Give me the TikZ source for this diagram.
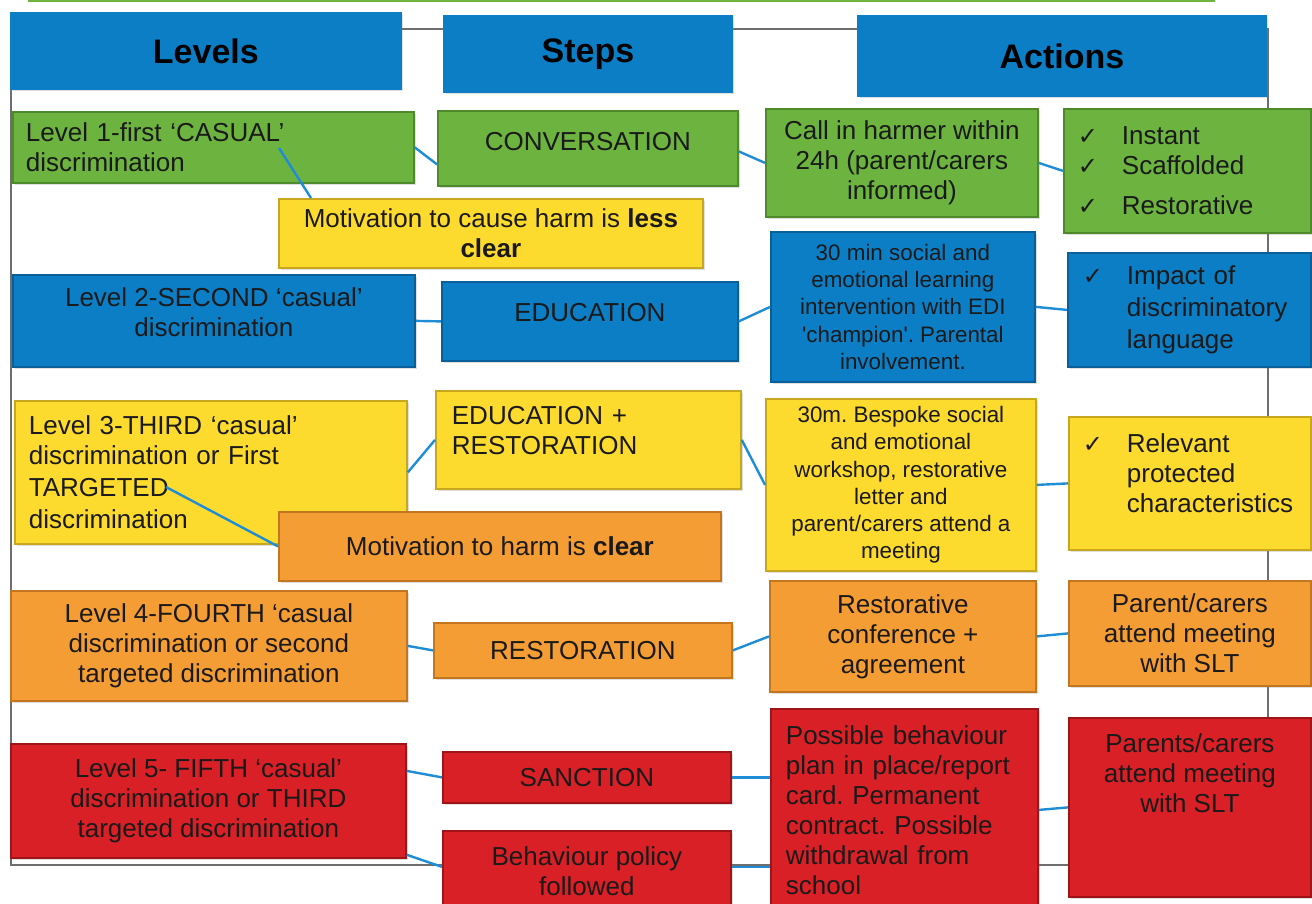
\documentclass[tikz,border=0pt]{standalone}
\usepackage{fontspec}
\setmainfont{Liberation Sans}
\newfontfamily\tickfont{DejaVu Sans}
\usetikzlibrary{calc, shadows}
\definecolor{verdeNivel}{HTML}{6DB33F}
\definecolor{verdeBorde}{HTML}{4E8A2B}
\definecolor{azulNivel}{HTML}{0B7EC5}
\definecolor{azulBorde}{HTML}{0A5F98}
\definecolor{amarilloNivel}{HTML}{FDDA2E}
\definecolor{amarilloBorde}{HTML}{C6A71E}
\definecolor{naranjaNivel}{HTML}{F59D35}
\definecolor{naranjaBorde}{HTML}{C27620}
\definecolor{rojoNivel}{HTML}{D92027}
\definecolor{rojoBorde}{HTML}{9E1419}
\definecolor{enlace}{HTML}{1F8DD6}
\definecolor{marco}{HTML}{6E6E6E}
\definecolor{tinta}{HTML}{1A1A1A}
% one pixel of the sheet
\newcommand{\pix}{0.5pt}
\newcommand{\tick}{\makebox[18pt][l]{\hspace{-4pt}\tickfont\fontsize{12}{15}\selectfont ✓}}
\newcommand{\sintick}{\hspace*{18pt}}
\hyphenpenalty=10000
\exhyphenpenalty=10000
\frenchspacing
\tikzset{
  cajaBase/.style={
    draw, line width=0.9pt, inner sep=0pt, anchor=north west,
    align=center, text=tinta, font=\fontsize{13}{15}\selectfont,
    drop shadow={shadow xshift=1.2pt, shadow yshift=-1.2pt, opacity=0.25}
  },
  medida/.style 2 args={minimum width=#1*\pix, minimum height=#2*\pix},
  ancho/.style={text width=#1pt/2, align=left},
  letraChica/.style={font=\fontsize{11.2}{13.6}\selectfont},
  cajaTitulo/.style={cajaBase, draw=azulNivel, fill=azulNivel,
    font=\fontsize{17}{20}\selectfont\bfseries, text=black},
  cajaVerde/.style={cajaBase, draw=verdeBorde, fill=verdeNivel},
  cajaAzul/.style={cajaBase, draw=azulBorde, fill=azulNivel},
  cajaAmarilla/.style={cajaBase, draw=amarilloBorde, fill=amarilloNivel},
  cajaNaranja/.style={cajaBase, draw=naranjaBorde, fill=naranjaNivel},
  cajaRoja/.style={cajaBase, draw=rojoBorde, fill=rojoNivel},
  conector/.style={draw=enlace, line width=1.2pt},
}

\begin{document}
\begin{tikzpicture}[x=\pix, y=-\pix]
  \useasboundingbox (0,0) rectangle (1312,904);
  \clip (0,0) rectangle (1312,904);

  % frame and the bar above the headings
  \draw[marco, line width=0.7pt] (11,29) rectangle (1268,865);
  \node[draw=verdeNivel, line width=1.2pt, fill=white, anchor=south west,
        medida={1185}{40}] (barra) at (28,2) {};

  % headings
  \node[cajaTitulo, medida={390}{76}] (hNivel) at (10,12) {Levels};
  \node[cajaTitulo, medida={288}{76}] (hPaso) at (443,15) {Steps};
  \node[cajaTitulo, medida={408}{80}] (hAccion) at (857,15) {Actions};

  % level 1
  \node[cajaVerde, medida={401}{71}, ancho=375] (n1) at (12,111)
    {Level 1-first ‘CASUAL’\\discrimination};
  \node[cajaVerde, medida={300}{75}, text depth=7pt] (p1) at (437,110) {CONVERSATION};
  \node[cajaVerde, medida={272}{108}] (a1) at (765,108)
    {Call in harmer within\\24h (parent/carers\\informed)};
  \node[cajaVerde, medida={247}{124}, ancho=203] (c1) at (1063,108)
    {\tick Instant\\\tick Scaffolded\\[5pt]\tick Restorative};
  \node[cajaAmarilla, medida={424}{69}] (m1) at (278,198)
    {Motivation to cause harm is \textbf{less}\\\textbf{clear}};

  % level 2
  \node[cajaAzul, medida={402}{92}, text depth=9pt] (n2) at (12,274)
    {Level 2-SECOND ‘casual’\\discrimination};
  \node[cajaAzul, medida={296}{79}, text depth=9pt] (p2) at (441,281) {EDUCATION};
  \node[cajaAzul, letraChica, medida={264}{150}] (a2) at (770,231)
    {30 min social and\\emotional learning\\intervention with EDI\\
     \textquotesingle champion\textquotesingle. Parental\\involvement.};
  \node[cajaAzul, medida={243}{114}, ancho=197] (c2) at (1067,252)
    {\tick Impact of\\[1pt]\sintick discriminatory\\[1pt]\sintick language};

  % level 3
  \node[cajaAmarilla, medida={392}{143}, ancho=364] (n3) at (14,400)
    {Level 3-THIRD ‘casual’\\discrimination or First\\[1pt]TARGETED\\[1pt]discrimination};
  \node[cajaAmarilla, medida={305}{98}, ancho=273, text depth=24pt] (p3) at (435,390)
    {EDUCATION +\\RESTORATION};
  \node[cajaAmarilla, letraChica, medida={270}{172}] (a3) at (765,398)
    {30m. Bespoke social\\and emotional\\workshop, restorative\\letter and\\
     parent/carers attend a\\meeting};
  \node[cajaAmarilla, medida={242}{133}, ancho=198, text depth=40pt] (c3) at (1068,416)
    {\tick Relevant\\\sintick protected\\\sintick characteristics};
  \node[cajaNaranja, medida={442}{69}] (m3) at (278,511)
    {Motivation to harm is \textbf{clear}};

  % level 4
  \node[cajaNaranja, medida={396}{110}] (n4) at (10,590)
    {Level 4-FOURTH ‘casual\\discrimination or second\\targeted discrimination};
  \node[cajaNaranja, medida={298}{55}] (p4) at (433,622) {RESTORATION};
  \node[cajaNaranja, medida={266}{111}] (a4) at (769,580)
    {Restorative\\conference +\\agreement};
  \node[cajaNaranja, medida={242}{105}] (c4) at (1068,580)
    {Parent/carers\\attend meeting\\with SLT};

  % level 5
  \node[cajaRoja, medida={395}{114}] (n5) at (10,743)
    {Level 5- FIFTH ‘casual’\\discrimination or THIRD\\targeted discrimination};
  \node[cajaRoja, medida={288}{51}] (p5) at (442,751) {SANCTION};
  \node[cajaRoja, medida={288}{80}] (p5b) at (442,830) {Behaviour policy\\followed};
  \node[cajaRoja, medida={267}{202}, ancho=237] (a5) at (770,708)
    {Possible behaviour\\plan in place/report\\card. Permanent\\contract. Possible\\
     withdrawal from\\school};
  \node[cajaRoja, medida={242}{179}, text depth=34pt] (c5) at (1068,717)
    {Parents/carers\\attend meeting\\with SLT};

  % links
  \draw[conector] (n1.east) -- ($(p1.west)+(0,16)$);
  \draw[conector] ($(p1.east)+(0,3)$) -- (a1.west);
  \draw[conector] (a1.east) -- (c1.west);
  \draw[conector] ($(n1.north west)+(267,37)$) -- ($(m1.north west)+(33,0)$);

  \draw[conector] (n2.east) -- (p2.west);
  \draw[conector] (p2.east) -- (a2.west);
  \draw[conector] (a2.east) -- (c2.west);

  \draw[conector] (n3.east) -- (p3.west);
  \draw[conector] (p3.east) -- (a3.west);
  \draw[conector] (a3.east) -- (c3.west);
  \draw[conector] ($(n3.north west)+(152,87)$) -- (m3.west);

  \draw[conector] (n4.east) -- (p4.west);
  \draw[conector] (p4.east) -- (a4.west);
  \draw[conector] (a4.east) -- (c4.west);

  \draw[conector] ($(n5.east)+(0,-30)$) -- (p5.west);
  \draw[conector] ($(n5.south east)+(0,-4)$) -- ($(p5b.west)+(0,-4)$);
  \draw[conector] (p5.east) -- (p5.east -| a5.west);
  \draw[conector] ($(p5b.east)+(0,-4)$) -- ($(p5b.east -| a5.west)+(0,-4)$);
  \draw[conector] (a5.east) -- (c5.west);
\end{tikzpicture}
\end{document}
